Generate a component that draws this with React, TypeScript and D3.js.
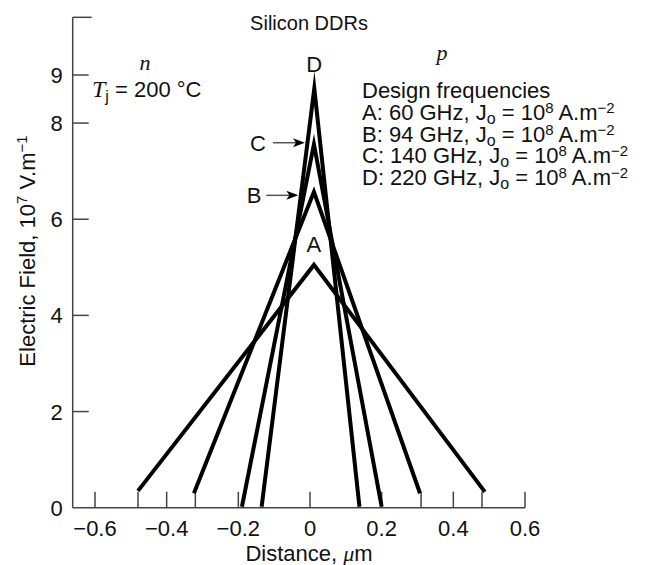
import React from "react";
import * as d3 from "d3";

// Electric field profiles of silicon double-drift regions (triangular profiles)
const curveNames = ["A", "B", "C", "D"];
const startDistance = [-0.48, -0.324, -0.19, -0.135];
const startField = [0.35, 0.3, 0.02, 0.02];
const peakDistance = [0.011, 0.011, 0.011, 0.012];
const peakField = [5.05, 6.57, 7.56, 8.72];
const endDistance = [0.488, 0.307, 0.2, 0.138];
const endField = [0.33, 0.3, 0.02, 0.02];

const designFrequencies = ["60", "94", "140", "220"];

const xTicks = [-0.6, -0.4, -0.2, 0, 0.2, 0.4, 0.6];
const xTickLabels = ["−0.6", "−0.4", "−0.2", "0", "0.2", "0.4", "0.6"];
const xEdgeTicks = [-0.48, -0.32, 0.31, 0.48];
const yTicks = [2, 4, 6, 8, 9];
const yTickLabels = ["2", "4", "6", "8", "9"];
const yAxisTop = 10.2;

const SANS = "'Liberation Sans', Arial, Helvetica, sans-serif";
const SERIF = "'Liberation Serif', 'DejaVu Serif', serif";

export default function App() {
  const x = d3.scaleLinear().domain([-0.6, 0.6]).range([95, 525]);
  const y = d3.scaleLinear().domain([0, 9]).range([507.7, 75]);
  const x0 = 72.7;
  const yBase = y(0);

  const line = d3
    .line<[number, number]>()
    .x((d) => x(d[0]))
    .y((d) => y(d[1]));

  const curves = curveNames.map((name, i) => ({
    name,
    pts: [
      [startDistance[i], startField[i]],
      [peakDistance[i], peakField[i]],
      [endDistance[i], endField[i]],
    ] as [number, number][],
  }));

  // x position on the left flank of the steepest curve (D) at a given pixel height
  const dIdx = 3;
  const leftEdgeAt = (py: number) => {
    const xa = x(startDistance[dIdx]);
    const ya = y(startField[dIdx]);
    const xb = x(peakDistance[dIdx]);
    const yb = y(peakField[dIdx]);
    return xa + ((ya - py) / (ya - yb)) * (xb - xa);
  };

  const arrowFor = (idx: number, dy: number, labelGap: number) => {
    const py = y(peakField[idx]) + dy;
    const tip = leftEdgeAt(py) - 2.5;
    const tail = tip - 32;
    return { py, tip, tail, labelX: tail - labelGap };
  };
  const arrowC = arrowFor(2, -1.5, 7);
  const arrowB = arrowFor(1, 3.5, 5);

  const legendRows = curveNames.map((n, i) => ({ n, f: designFrequencies[i] }));

  return (
    <svg
      width={645}
      height={565}
      style={{ position: "absolute", left: 0, top: 0, background: "#fff" }}
      fontFamily={SANS}
    >
      {/* axes */}
      <g stroke="#444" strokeWidth={1.5} fill="none">
        <line x1={x0} y1={y(yAxisTop)} x2={x0} y2={yBase} />
        <line x1={x0} y1={yBase} x2={x(0.6)} y2={yBase} />
        <line x1={x0} y1={y(yAxisTop)} x2={x0 + 19} y2={y(yAxisTop)} />
        {yTicks.map((t) => (
          <line key={t} x1={x0} y1={y(t)} x2={x0 + 16} y2={y(t)} />
        ))}
        {xTicks.map((t) => (
          <line key={t} x1={x(t)} y1={yBase} x2={x(t)} y2={yBase - 16} />
        ))}
        {xEdgeTicks.map((t) => (
          <line key={t} x1={x(t)} y1={yBase} x2={x(t)} y2={yBase - 16} />
        ))}
      </g>

      {/* tick labels */}
      <g fontSize={22} fill="#111">
        {yTicks.map((t, i) => (
          <text key={t} x={x0 - 10} y={y(t) + 8} textAnchor="end">
            {yTickLabels[i]}
          </text>
        ))}
        <text x={x0 - 10} y={yBase + 8} textAnchor="end">0</text>
        {xTicks.map((t, i) => (
          <text key={t} x={x(t)} y={yBase + 28} textAnchor="middle">
            {xTickLabels[i]}
          </text>
        ))}
      </g>

      {/* axis titles */}
      <text x={309} y={561} textAnchor="middle" fontSize={22} fill="#111">
        Distance,{" "}
        <tspan fontFamily={SERIF} fontStyle="italic">μ</tspan>m
      </text>
      <text
        transform="translate(35,251) rotate(-90)"
        textAnchor="middle"
        fontSize={22}
        fill="#111"
      >
        Electric Field, 10
        <tspan fontSize={15} dy={-8}>7</tspan>
        <tspan dy={8}>{" V.m"}</tspan>
        <tspan fontSize={15} dy={-8}>−1</tspan>
      </text>

      {/* title and annotations */}
      <text x={309} y={30} textAnchor="middle" fontSize={20} fill="#111">
        Silicon DDRs
      </text>
      <text x={145} y={70} textAnchor="middle" fontSize={22} fontFamily={SERIF} fontStyle="italic" fill="#111">
        n
      </text>
      <text x={92} y={97} fontSize={22} fill="#111">
        <tspan fontFamily={SERIF} fontStyle="italic" fontSize={24}>T</tspan>
        <tspan fontSize={16} dy={5}>j</tspan>
        <tspan dy={-5}>{" = 200 °C"}</tspan>
      </text>
      <text x={442} y={60} textAnchor="middle" fontSize={22} fontFamily={SERIF} fontStyle="italic" fill="#111">
        p
      </text>

      {/* legend of design frequencies */}
      <g fontSize={22} fill="#111">
        <text x={362} y={98}>Design frequencies</text>
        {legendRows.map((r, i) => (
          <text key={r.n} x={362} y={120 + i * 21.7}>
            {`${r.n}: ${r.f} GHz, J`}
            <tspan fontSize={16} dy={4}>o</tspan>
            <tspan dy={-4}>{" = 10"}</tspan>
            <tspan fontSize={15} dy={-7}>8</tspan>
            <tspan dy={7}>{" A.m"}</tspan>
            <tspan fontSize={15} dy={-7}>−2</tspan>
          </text>
        ))}
      </g>

      {/* field profiles */}
      <g fill="none" stroke="#000" strokeWidth={4} strokeLinejoin="miter" strokeMiterlimit={10}>
        {curves.map((c) => (
          <path key={c.name} d={line(c.pts) ?? ""} />
        ))}
      </g>

      {/* curve labels */}
      <g fontSize={22} fill="#111" textAnchor="middle">
        <text x={x(peakDistance[3])} y={y(peakField[3]) - 16}>D</text>
        <text x={x(peakDistance[0])} y={y(peakField[0]) - 13}>A</text>
        <text x={arrowC.labelX} y={arrowC.py + 8} textAnchor="end">C</text>
        <text x={arrowB.labelX} y={arrowB.py + 8} textAnchor="end">B</text>
      </g>

      {/* arrows pointing to C and B */}
      {[arrowC, arrowB].map((a, i) => (
        <g key={i}>
          <line x1={a.tail} y1={a.py} x2={a.tip - 8} y2={a.py} stroke="#555" strokeWidth={1.5} />
          <path
            d={`M${a.tip},${a.py} L${a.tip - 12},${a.py - 4.5} L${a.tip - 9},${a.py} L${a.tip - 12},${a.py + 4.5} Z`}
            fill="#000"
          />
        </g>
      ))}
    </svg>
  );
}
